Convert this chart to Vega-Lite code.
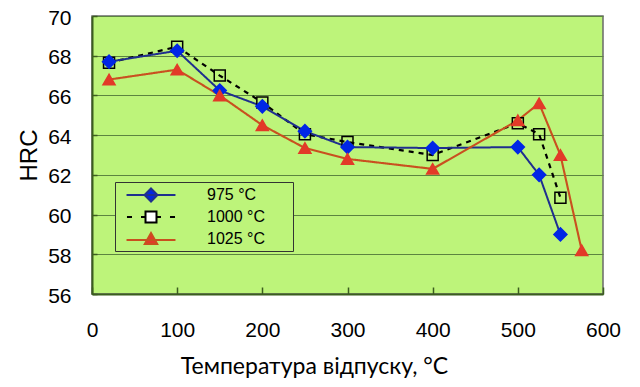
{
  "$schema": "https://vega.github.io/schema/vega-lite/v6.json",
  "width": 511,
  "height": 278,
  "autosize": {"type": "none"},
  "padding": {"left": 92, "top": 16, "right": 37, "bottom": 93},
  "background": "white",
  "config": {
    "view": {"fill": "#bdf47a", "stroke": "#6a6a6a", "strokeWidth": 1.5},
    "axis": {
      "labelFont": "Liberation Sans",
      "labelFontSize": 21,
      "labelColor": "#000000",
      "titleFont": "Liberation Sans",
      "titleColor": "#000000",
      "titleFontWeight": "normal",
      "domainColor": "#3b5d1f",
      "domainWidth": 2,
      "tickColor": "#3b5d1f",
      "tickWidth": 1.5
    }
  },
  "data": {
    "values": [
      {"series": "1000 °C", "t": 20, "hrc": 67.65},
      {"series": "1000 °C", "t": 100, "hrc": 68.45},
      {"series": "1000 °C", "t": 150, "hrc": 67.0},
      {"series": "1000 °C", "t": 200, "hrc": 65.65},
      {"series": "1000 °C", "t": 250, "hrc": 64.05},
      {"series": "1000 °C", "t": 300, "hrc": 63.65},
      {"series": "1000 °C", "t": 400, "hrc": 63.0},
      {"series": "1000 °C", "t": 500, "hrc": 64.6},
      {"series": "1000 °C", "t": 525, "hrc": 64.05},
      {"series": "1000 °C", "t": 550, "hrc": 60.85},
      {"series": "975 °C", "t": 20, "hrc": 67.7},
      {"series": "975 °C", "t": 100, "hrc": 68.25},
      {"series": "975 °C", "t": 150, "hrc": 66.25},
      {"series": "975 °C", "t": 200, "hrc": 65.45},
      {"series": "975 °C", "t": 250, "hrc": 64.2},
      {"series": "975 °C", "t": 300, "hrc": 63.4},
      {"series": "975 °C", "t": 400, "hrc": 63.35},
      {"series": "975 °C", "t": 500, "hrc": 63.4},
      {"series": "975 °C", "t": 525, "hrc": 62.0},
      {"series": "975 °C", "t": 550, "hrc": 59.0},
      {"series": "1025 °C", "t": 20, "hrc": 66.8},
      {"series": "1025 °C", "t": 100, "hrc": 67.3},
      {"series": "1025 °C", "t": 150, "hrc": 66.0},
      {"series": "1025 °C", "t": 200, "hrc": 64.5},
      {"series": "1025 °C", "t": 250, "hrc": 63.35},
      {"series": "1025 °C", "t": 300, "hrc": 62.8},
      {"series": "1025 °C", "t": 400, "hrc": 62.3},
      {"series": "1025 °C", "t": 500, "hrc": 64.75},
      {"series": "1025 °C", "t": 525, "hrc": 65.6},
      {"series": "1025 °C", "t": 550, "hrc": 63.0},
      {"series": "1025 °C", "t": 575, "hrc": 58.2}
    ]
  },
  "encoding": {
    "x": {
      "field": "t", "type": "quantitative",
      "scale": {"domain": [0, 600], "nice": false, "zero": false},
      "axis": {
        "values": [0, 100, 200, 300, 400, 500, 600],
        "grid": false,
        "tickSize": -7,
        "labelFlush": false,
        "labelPadding": 49,
        "labelBaseline": "alphabetic",
        "title": "Температура відпуску, °C",
        "titleFont": "Lato",
        "titleFontSize": 23,
        "titleAlign": "center",
        "titleBaseline": "alphabetic",
        "titleX": 222,
        "titleY": 79
      }
    },
    "y": {
      "field": "hrc", "type": "quantitative",
      "scale": {"domain": [56, 70], "nice": false, "zero": false},
      "axis": {
        "values": [56, 58, 60, 62, 64, 66, 68, 70],
        "grid": true,
        "gridColor": "#5c8440",
        "gridWidth": 1,
        "tickSize": -5,
        "labelPadding": 26,
        "labelBaseline": "middle",
        "labelOffset": 2,
        "title": "HRC",
        "titleFontSize": 24,
        "titleAngle": -90,
        "titleAlign": "center",
        "titleBaseline": "alphabetic",
        "titleX": -56,
        "titleY": 139
      }
    }
  },
  "layer": [
    {
      "mark": {"type": "line"},
      "encoding": {
        "color": {
          "field": "series", "type": "nominal",
          "scale": {"domain": ["975 °C", "1000 °C", "1025 °C"], "range": ["#1f2f8e", "#000000", "#c9501f"]},
          "legend": {
            "orient": "none",
            "legendX": 23,
            "legendY": 166,
            "title": ".",
            "titleOrient": "right",
            "titleFontSize": 2,
            "titleOpacity": 0,
            "titlePadding": 24,
            "padding": 3,
            "rowPadding": 1,
            "fillColor": "#bdf47a",
            "strokeColor": "#333333",
            "symbolSize": 324,
            "symbolOffset": 23,
            "symbolStrokeWidth": 2,
            "labelFont": "Liberation Sans",
            "labelFontSize": 16,
            "labelColor": "#000000",
            "labelOffset": 46,
            "encoding": {
              "symbols": {
                "shape": {"value": {"expr": "datum.value == '975 °C' ? 'M-2.72,0H2.72M0,-0.72L0.72,0L0,0.72L-0.72,0Z' : datum.value == '1000 °C' ? 'M-2.67,0H-2.11M-1.11,0H-0.61M0.61,0H1.11M2.11,0H2.67M-0.61,-0.61H0.61V0.61H-0.61Z' : 'M-2.72,0.1H2.72M0,-0.67L0.69,0.55L-0.69,0.55Z'"}},
                "fill": {"value": {"expr": "datum.value == '975 °C' ? '#0026e6' : datum.value == '1000 °C' ? '#ffffff' : '#e23a28'"}},
                "stroke": {"value": {"expr": "datum.value == '975 °C' ? '#1f2f8e' : datum.value == '1000 °C' ? '#000000' : '#c9501f'"}},
                "fillOpacity": {"value": 1},
                "strokeWidth": {"value": 2}
              }
            }
          }
        },
        "strokeDash": {
          "field": "series", "type": "nominal",
          "scale": {"range": [[5, 5], [1, 0], [1, 0]]},
          "legend": null
        },
        "strokeWidth": {
          "field": "series", "type": "nominal",
          "scale": {"range": [2.2, 2, 2.5]},
          "legend": null
        }
      }
    },
    {
      "mark": {"type": "point", "filled": true, "strokeWidth": 1.5, "opacity": 1},
      "encoding": {
        "shape": {
          "field": "series", "type": "nominal",
          "scale": {"range": ["square", "triangle-up", "diamond"]},
          "legend": null
        },
        "size": {
          "field": "series", "type": "nominal",
          "scale": {"range": [121, 170, 150]},
          "legend": null
        },
        "fill": {
          "field": "series", "type": "nominal",
          "scale": {"range": ["transparent", "#e23a28", "#0026e6"]},
          "legend": null
        },
        "stroke": {
          "field": "series", "type": "nominal",
          "scale": {"range": ["#000000", "#e23a28", "#0026e6"]},
          "legend": null
        }
      }
    }
  ]
}
